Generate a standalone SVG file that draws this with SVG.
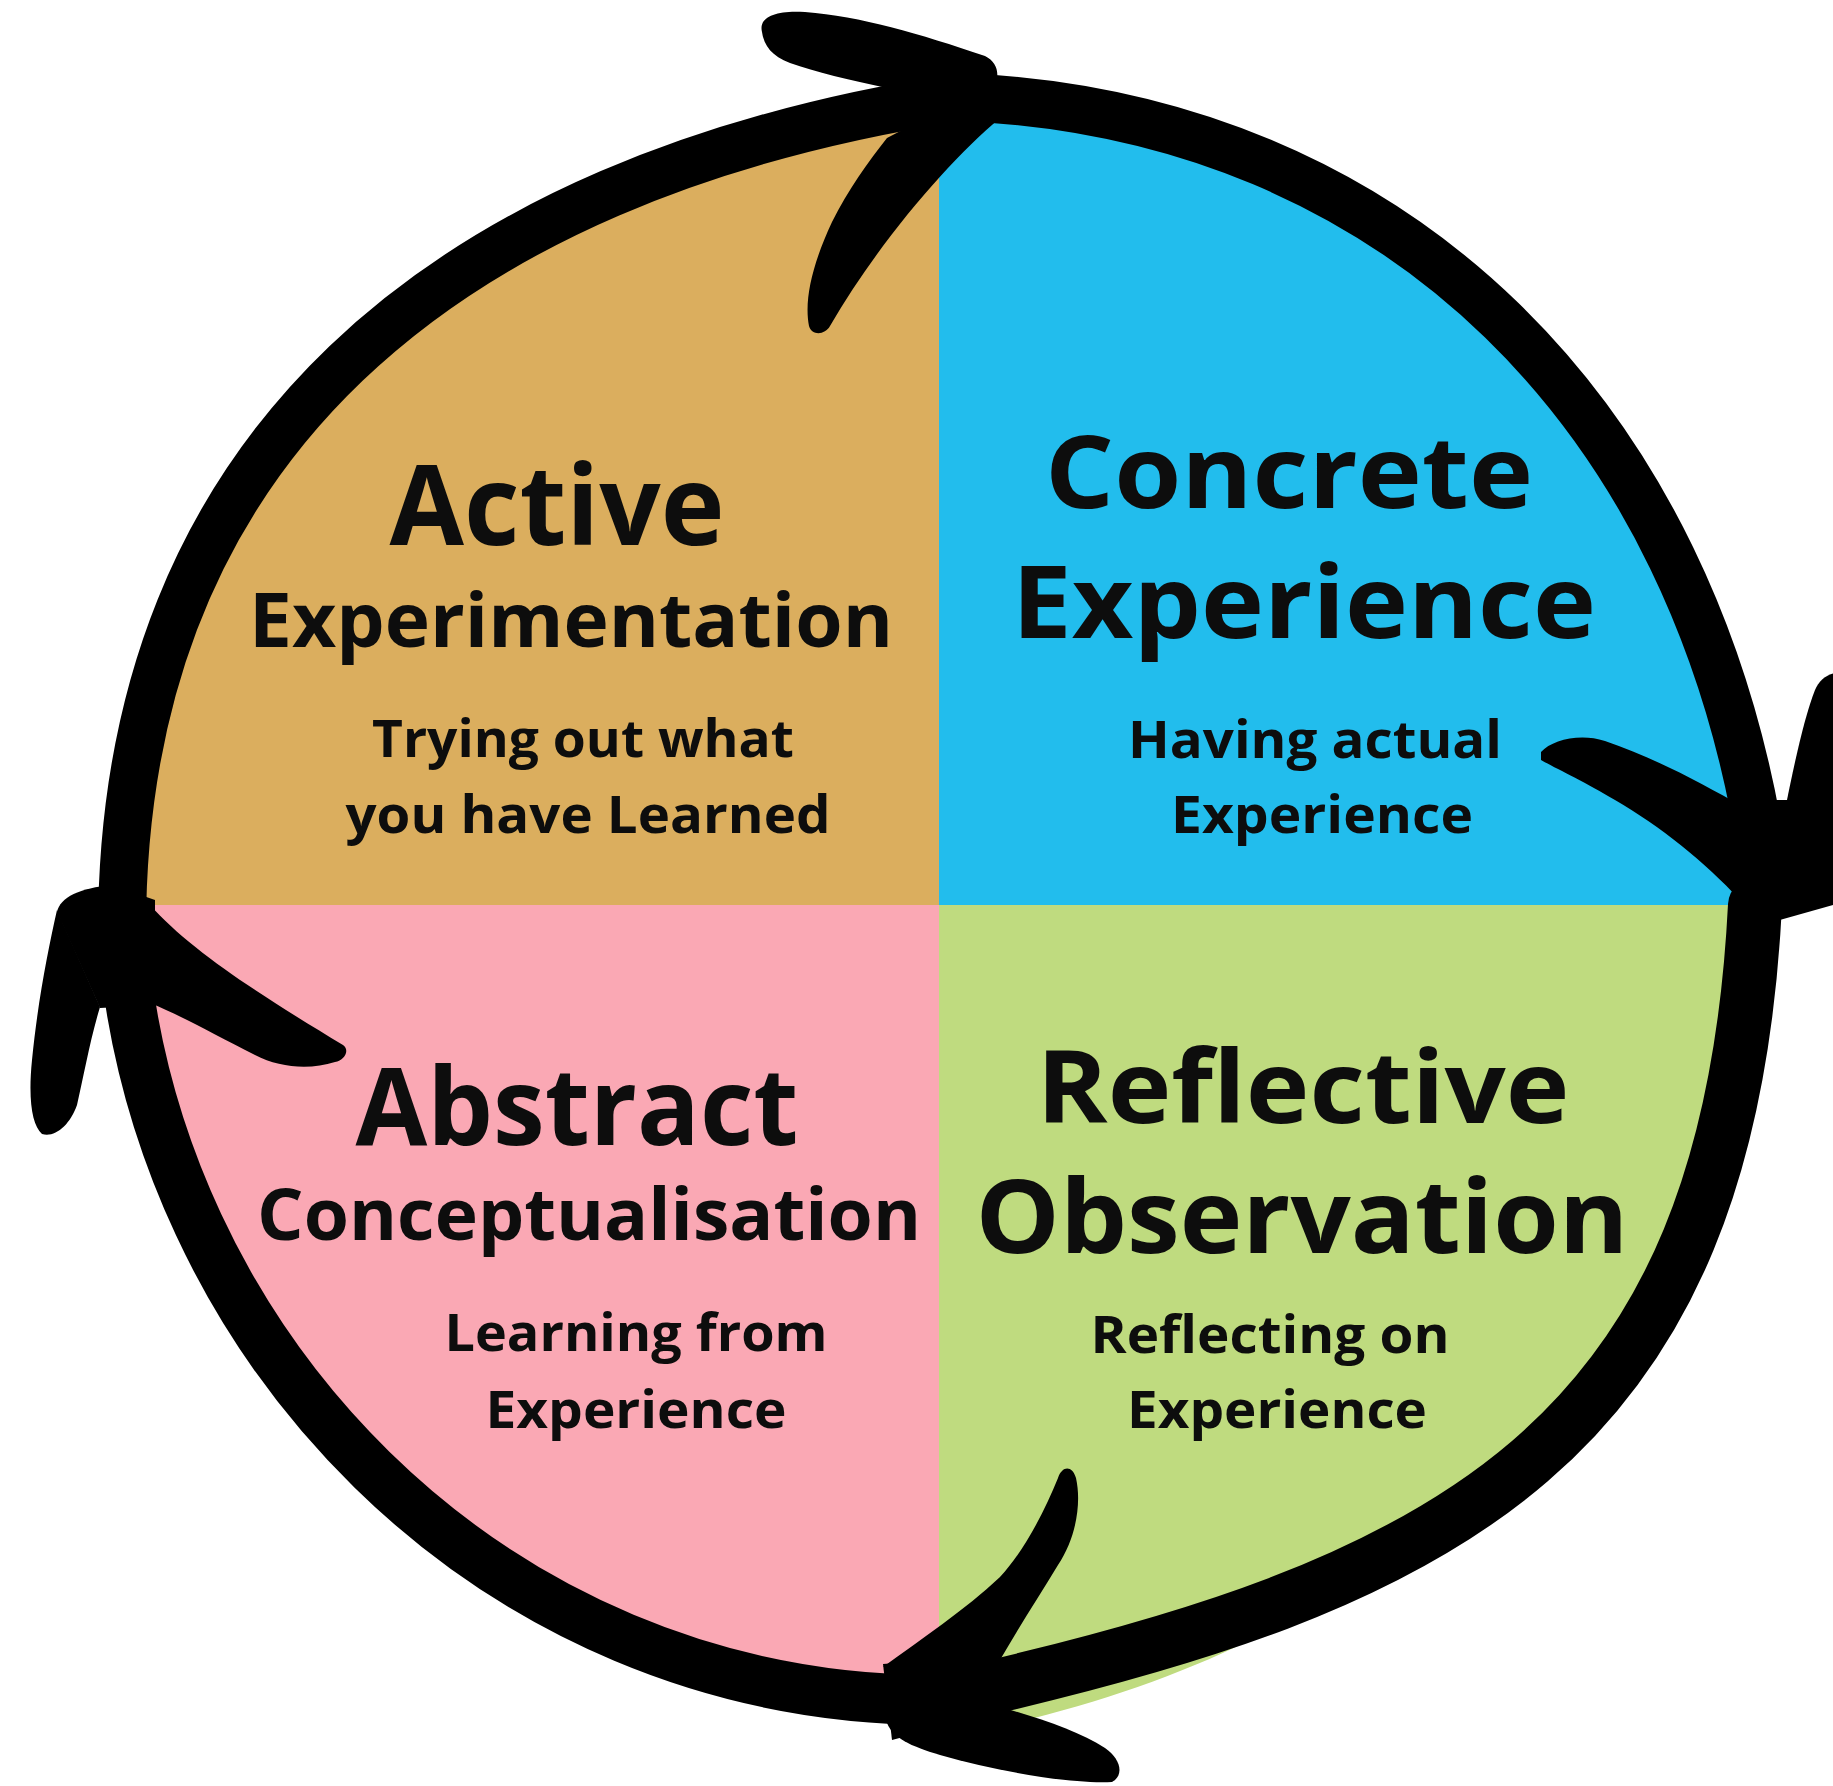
<svg xmlns="http://www.w3.org/2000/svg" width="1833" height="1786" viewBox="0 0 1833 1786">
<style>
.ring{fill:none;stroke:#000;stroke-linecap:round;stroke-linejoin:round}
.barb{fill:#000}
.t{font-family:"Open Sans","Noto Sans","Liberation Sans",sans-serif;font-weight:700;fill:#0d0d0d;text-anchor:middle}
</style>
<defs>
<clipPath id="disc">
<path d="M122,930 C122,450 440,177 960,97 C1400,115 1697,420 1763,860 L1755,905 C1728,1442 1455,1586 935,1700 C489,1700 151,1343 122,930 Z"/>
</clipPath>
</defs>
<rect x="0" y="0" width="1833" height="1786" fill="#ffffff"/>

<g id="active-experimentation">
<rect x="0" y="0" width="939" height="905" fill="#DBAE5E" clip-path="url(#disc)"/>
<text class="t" x="557" y="545" font-size="112" textLength="335" lengthAdjust="spacingAndGlyphs">Active</text>
<text class="t" x="571" y="647" font-size="76" textLength="644" lengthAdjust="spacingAndGlyphs">Experimentation</text>
<text class="t" x="583" y="757" font-size="52" textLength="422" lengthAdjust="spacingAndGlyphs">Trying out what</text>
<text class="t" x="588" y="833" font-size="52" textLength="485" lengthAdjust="spacingAndGlyphs">you have Learned</text>
</g>

<g id="concrete-experience">
<rect x="939" y="0" width="894" height="905" fill="#22BDED" clip-path="url(#disc)"/>
<text class="t" x="1289" y="508" font-size="100" textLength="488" lengthAdjust="spacingAndGlyphs">Concrete</text>
<text class="t" x="1304" y="638" font-size="100" textLength="584" lengthAdjust="spacingAndGlyphs">Experience</text>
<text class="t" x="1315" y="758" font-size="52" textLength="374" lengthAdjust="spacingAndGlyphs">Having actual</text>
<text class="t" x="1322" y="833" font-size="52" textLength="302" lengthAdjust="spacingAndGlyphs">Experience</text>
</g>

<g id="abstract-conceptualisation">
<rect x="0" y="905" width="939" height="881" fill="#FAA8B4" clip-path="url(#disc)"/>
<text class="t" x="577" y="1145" font-size="108" textLength="443" lengthAdjust="spacingAndGlyphs">Abstract</text>
<text class="t" x="589" y="1240" font-size="71" textLength="664" lengthAdjust="spacingAndGlyphs">Conceptualisation</text>
<text class="t" x="636" y="1351" font-size="52" textLength="383" lengthAdjust="spacingAndGlyphs">Learning from</text>
<text class="t" x="636" y="1428" font-size="52" textLength="301" lengthAdjust="spacingAndGlyphs">Experience</text>
</g>

<g id="reflective-observation">
<rect x="939" y="905" width="894" height="881" fill="#BFDB7F" clip-path="url(#disc)"/>
<path d="M945,1738 C1050,1718 1160,1685 1250,1640 L1240,1615 C1150,1650 1050,1672 945,1700 Z" fill="#BFDB7F"/>
<text class="t" x="1303" y="1123" font-size="101" textLength="533" lengthAdjust="spacingAndGlyphs">Reflective</text>
<text class="t" x="1302" y="1253" font-size="103" textLength="653" lengthAdjust="spacingAndGlyphs">Observation</text>
<text class="t" x="1270" y="1353" font-size="52" textLength="359" lengthAdjust="spacingAndGlyphs">Reflecting on</text>
<text class="t" x="1277" y="1428" font-size="52" textLength="300" lengthAdjust="spacingAndGlyphs">Experience</text>
</g>

<g id="connectors">
<path class="ring" stroke-width="48" d="M122,930 C122,450 440,177 960,97"/>
<path class="ring" stroke-width="48" d="M960,97 C1400,115 1697,420 1763,860"/>
<path class="ring" stroke-width="54" d="M1755,905 C1728,1442 1455,1586 935,1700"/>
<path class="ring" stroke-width="50" d="M935,1700 C489,1700 151,1343 122,930"/>

<g id="arrow-top">
<path class="barb" d="M762,32 C758,16 778,10 805,12 C860,16 920,34 985,56 C997,62 1000,74 995,84 L887,88 C850,80 815,72 790,63 C772,56 764,46 762,32 Z"/>
<path class="barb" d="M1000,118 C950,160 880,240 830,326 C825,335 812,336 809,326 C804,300 812,265 832,222 C848,190 868,162 887,138 L960,100 Z"/>
</g>
<g id="arrow-right">
<path class="barb" d="M1541,752 C1552,740 1580,733 1605,741 C1650,756 1700,782 1745,808 L1740,900 C1705,862 1660,826 1615,800 C1585,782 1555,768 1541,760 Z"/>
<path class="barb" d="M1785,905 L1786,805 C1795,760 1805,715 1815,690 C1820,678 1830,672 1845,672 L1845,905 Z"/>
<path class="barb" d="M1735,800 L1790,800 L1840,860 L1840,903 L1773,922 L1740,918 Z"/>
</g>
<g id="arrow-bottom">
<path class="barb" d="M883,1667 C920,1640 965,1610 1000,1577 C1025,1550 1045,1510 1058,1478 C1062,1466 1072,1465 1076,1478 C1082,1505 1075,1540 1058,1565 C1040,1595 1020,1625 1000,1660 Z"/>
<path class="barb" d="M887,1723 C880,1700 900,1690 930,1695 L1000,1707 C1040,1718 1080,1732 1105,1748 C1120,1758 1125,1775 1112,1782 C1070,1784 1000,1772 940,1755 C910,1746 893,1738 887,1723 Z"/>
<path class="barb" d="M883,1664 L1000,1655 L1005,1710 L892,1740 Z"/>
</g>
<g id="arrow-left">
<path class="barb" d="M57,910 C48,950 38,1000 32,1060 C28,1100 32,1125 42,1134 C55,1138 70,1125 77,1105 C84,1075 90,1040 100,1007 Z"/>
<path class="barb" d="M150,905 C190,950 260,995 343,1045 C350,1050 345,1060 335,1062 C310,1070 280,1068 255,1055 C215,1035 180,1015 150,1003 Z"/>
<path class="barb" d="M57,912 C60,897 80,888 112,885 L155,900 L155,1005 L100,1008 Z"/>
</g>
</g>
</svg>
